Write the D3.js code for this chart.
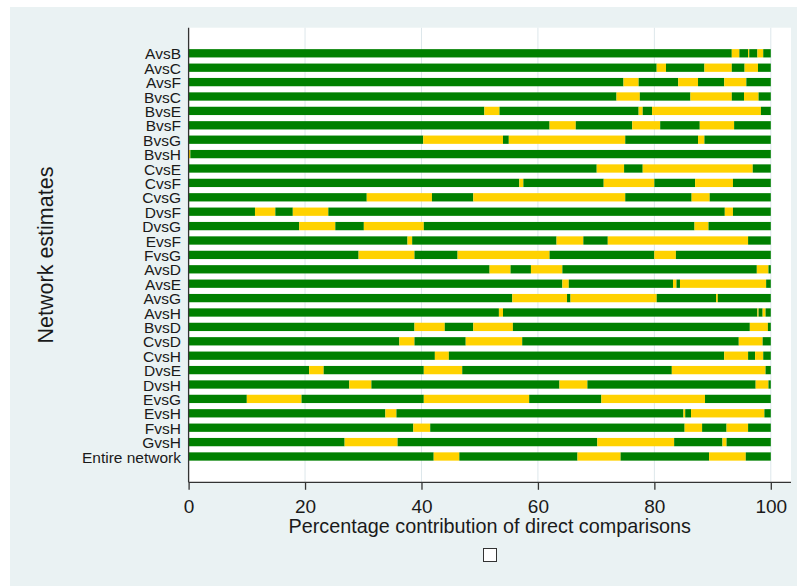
<!DOCTYPE html>
<html>
<head>
<meta charset="utf-8">
<script src="https://cdn.jsdelivr.net/npm/d3@7"></script>
<style>
  html, body { margin: 0; padding: 0; background: #ffffff; }
  svg { display: block; }
  text { font-family: "Liberation Sans", Arial, sans-serif; fill: #1a1a1a; }
</style>
</head>
<body>
<svg id="chart" width="797" height="586"></svg>
<script>
// Row labels (top to bottom)
const categories = [
  "AvsB","AvsC","AvsF","BvsC","BvsE","BvsF","BvsG","BvsH","CvsE","CvsF",
  "CvsG","DvsF","DvsG","EvsF","FvsG","AvsD","AvsE","AvsG","AvsH","BvsD",
  "CvsD","CvsH","DvsE","DvsH","EvsG","EvsH","FvsH","GvsH","Entire network"
];

// Cumulative percentage breakpoints inside each bar (colours alternate green / yellow, starting green)
const breakpoints = [
  [93.3, 94.6, 96.1, 96.3, 97.7, 98.7],
  [80.4, 82.0, 88.6, 93.3, 95.5, 97.8],
  [74.7, 77.3, 84.1, 87.5, 92.0, 95.8],
  [73.5, 77.5, 86.2, 93.3, 95.4, 97.9],
  [50.8, 53.4, 77.3, 78.0, 79.6, 98.3],
  [62.0, 66.5, 76.2, 81.0, 87.8, 93.7],
  [40.3, 54.0, 55.0, 75.0, 87.5, 88.6],
  [0.0, 0.3],
  [70.1, 74.8, 78.0, 96.9],
  [56.8, 57.5, 71.3, 80.0, 87.0, 93.5],
  [30.6, 41.8, 48.9, 75.0, 86.4, 89.5],
  [11.4, 14.9, 17.9, 24.0, 92.1, 93.5],
  [19.0, 25.2, 30.1, 40.4, 86.9, 89.3],
  [37.6, 38.4, 63.2, 67.8, 72.0, 96.1],
  [29.2, 38.8, 46.2, 62.0, 80.0, 83.7],
  [51.7, 55.3, 58.8, 64.2, 97.6, 99.6],
  [64.2, 65.3, 83.2, 83.8, 84.4, 99.2],
  [55.6, 65.0, 65.6, 80.4, 90.6, 90.9],
  [53.3, 54.0, 97.7, 97.9, 98.6, 99.1],
  [38.8, 44.0, 48.9, 55.7, 96.4, 99.5],
  [36.2, 38.8, 47.6, 57.3, 94.5, 98.6],
  [42.3, 44.7, 92.0, 96.1, 97.3, 98.7],
  [20.7, 23.2, 40.4, 47.0, 83.0, 99.1],
  [27.6, 31.4, 63.7, 68.5, 97.4, 99.6],
  [10.0, 19.4, 40.4, 58.5, 70.9, 88.7],
  [33.8, 35.7, 85.0, 85.3, 86.3, 98.9],
  [38.6, 41.5, 85.2, 88.2, 92.4, 96.1],
  [26.8, 35.9, 70.2, 83.4, 91.7, 92.4],
  [42.1, 46.5, 66.8, 74.2, 89.4, 95.7]
];

const xTicks = [0, 20, 40, 60, 80, 100];
const segmentColors = ["#008000", "#ffd200"];
const xTitle = "Percentage contribution of direct comparisons";
const yTitle = "Network estimates";

const svg = d3.select("#chart");

// outer background
svg.append("rect").attr("x", 10).attr("y", 7).attr("width", 787).attr("height", 579)
  .attr("fill", "#eaf2f3");

const plot = { left: 188.6, right: 791, top: 27.7, bottom: 482.3 };
svg.append("rect").attr("x", plot.left).attr("y", plot.top)
  .attr("width", plot.right - plot.left).attr("height", plot.bottom - plot.top)
  .attr("fill", "#ffffff");

const x = d3.scaleLinear().domain([0, 100]).range([188.6, 770.8]);
const y = d3.scalePoint().domain(categories).range([53.3, 456.5]);
const barH = 8.3;

// gridlines
svg.append("g").selectAll("line").data(xTicks.filter(d => d > 0)).join("line")
  .attr("x1", d => x(d)).attr("x2", d => x(d))
  .attr("y1", plot.top).attr("y2", plot.bottom)
  .attr("stroke", "#dde7eb").attr("stroke-width", 1);

// bars
const rows = svg.append("g").selectAll("g").data(categories).join("g");
rows.each(function(cat, i) {
  const pts = [0, ...breakpoints[i], 100];
  const segs = d3.pairs(pts).map(([a, b], k) => ({ a, b, k }));
  d3.select(this).selectAll("rect").data(segs.filter(s => s.b > s.a)).join("rect")
    .attr("x", s => x(s.a))
    .attr("width", s => x(s.b) - x(s.a))
    .attr("y", y(cat) - barH / 2)
    .attr("height", barH)
    .attr("fill", s => segmentColors[s.k % 2]);
});

// y labels
svg.append("g").selectAll("text").data(categories).join("text")
  .attr("x", 181).attr("y", d => y(d) + 6)
  .attr("text-anchor", "end").style("font-size", "15.5px")
  .text(d => d);

// axes
const xAxis = d3.axisBottom(x).tickValues(xTicks).tickSize(7.5).tickPadding(6).tickFormat(d3.format("d"));
const gx = svg.append("g").attr("transform", `translate(0,${plot.bottom})`).call(xAxis);
gx.select(".domain").remove();
gx.selectAll(".tick line").attr("stroke", "#333").attr("stroke-width", 1.3);
gx.selectAll(".tick text").style("font-size", "19px").attr("fill", "#1a1a1a")
  .attr("font-family", "Liberation Sans, Arial, sans-serif").attr("dy", null).attr("y", 31);

svg.append("line").attr("x1", plot.left).attr("x2", plot.right)
  .attr("y1", plot.bottom).attr("y2", plot.bottom)
  .attr("stroke", "#333").attr("stroke-width", 1.3);
svg.append("line").attr("x1", plot.left).attr("x2", plot.left)
  .attr("y1", plot.top).attr("y2", plot.bottom)
  .attr("stroke", "#333").attr("stroke-width", 1.3);

// titles
svg.append("text").attr("x", (plot.left + plot.right) / 2).attr("y", 533)
  .attr("text-anchor", "middle").style("font-size", "19.8px").text(xTitle);
svg.append("text").attr("transform", "translate(53,255) rotate(-90)")
  .attr("text-anchor", "middle").style("font-size", "21.5px").text(yTitle);

// empty legend key
svg.append("rect").attr("x", 483.5).attr("y", 548.5).attr("width", 13).attr("height", 13)
  .attr("fill", "#ffffff").attr("stroke", "#333").attr("stroke-width", 1);
</script>
</body>
</html>
